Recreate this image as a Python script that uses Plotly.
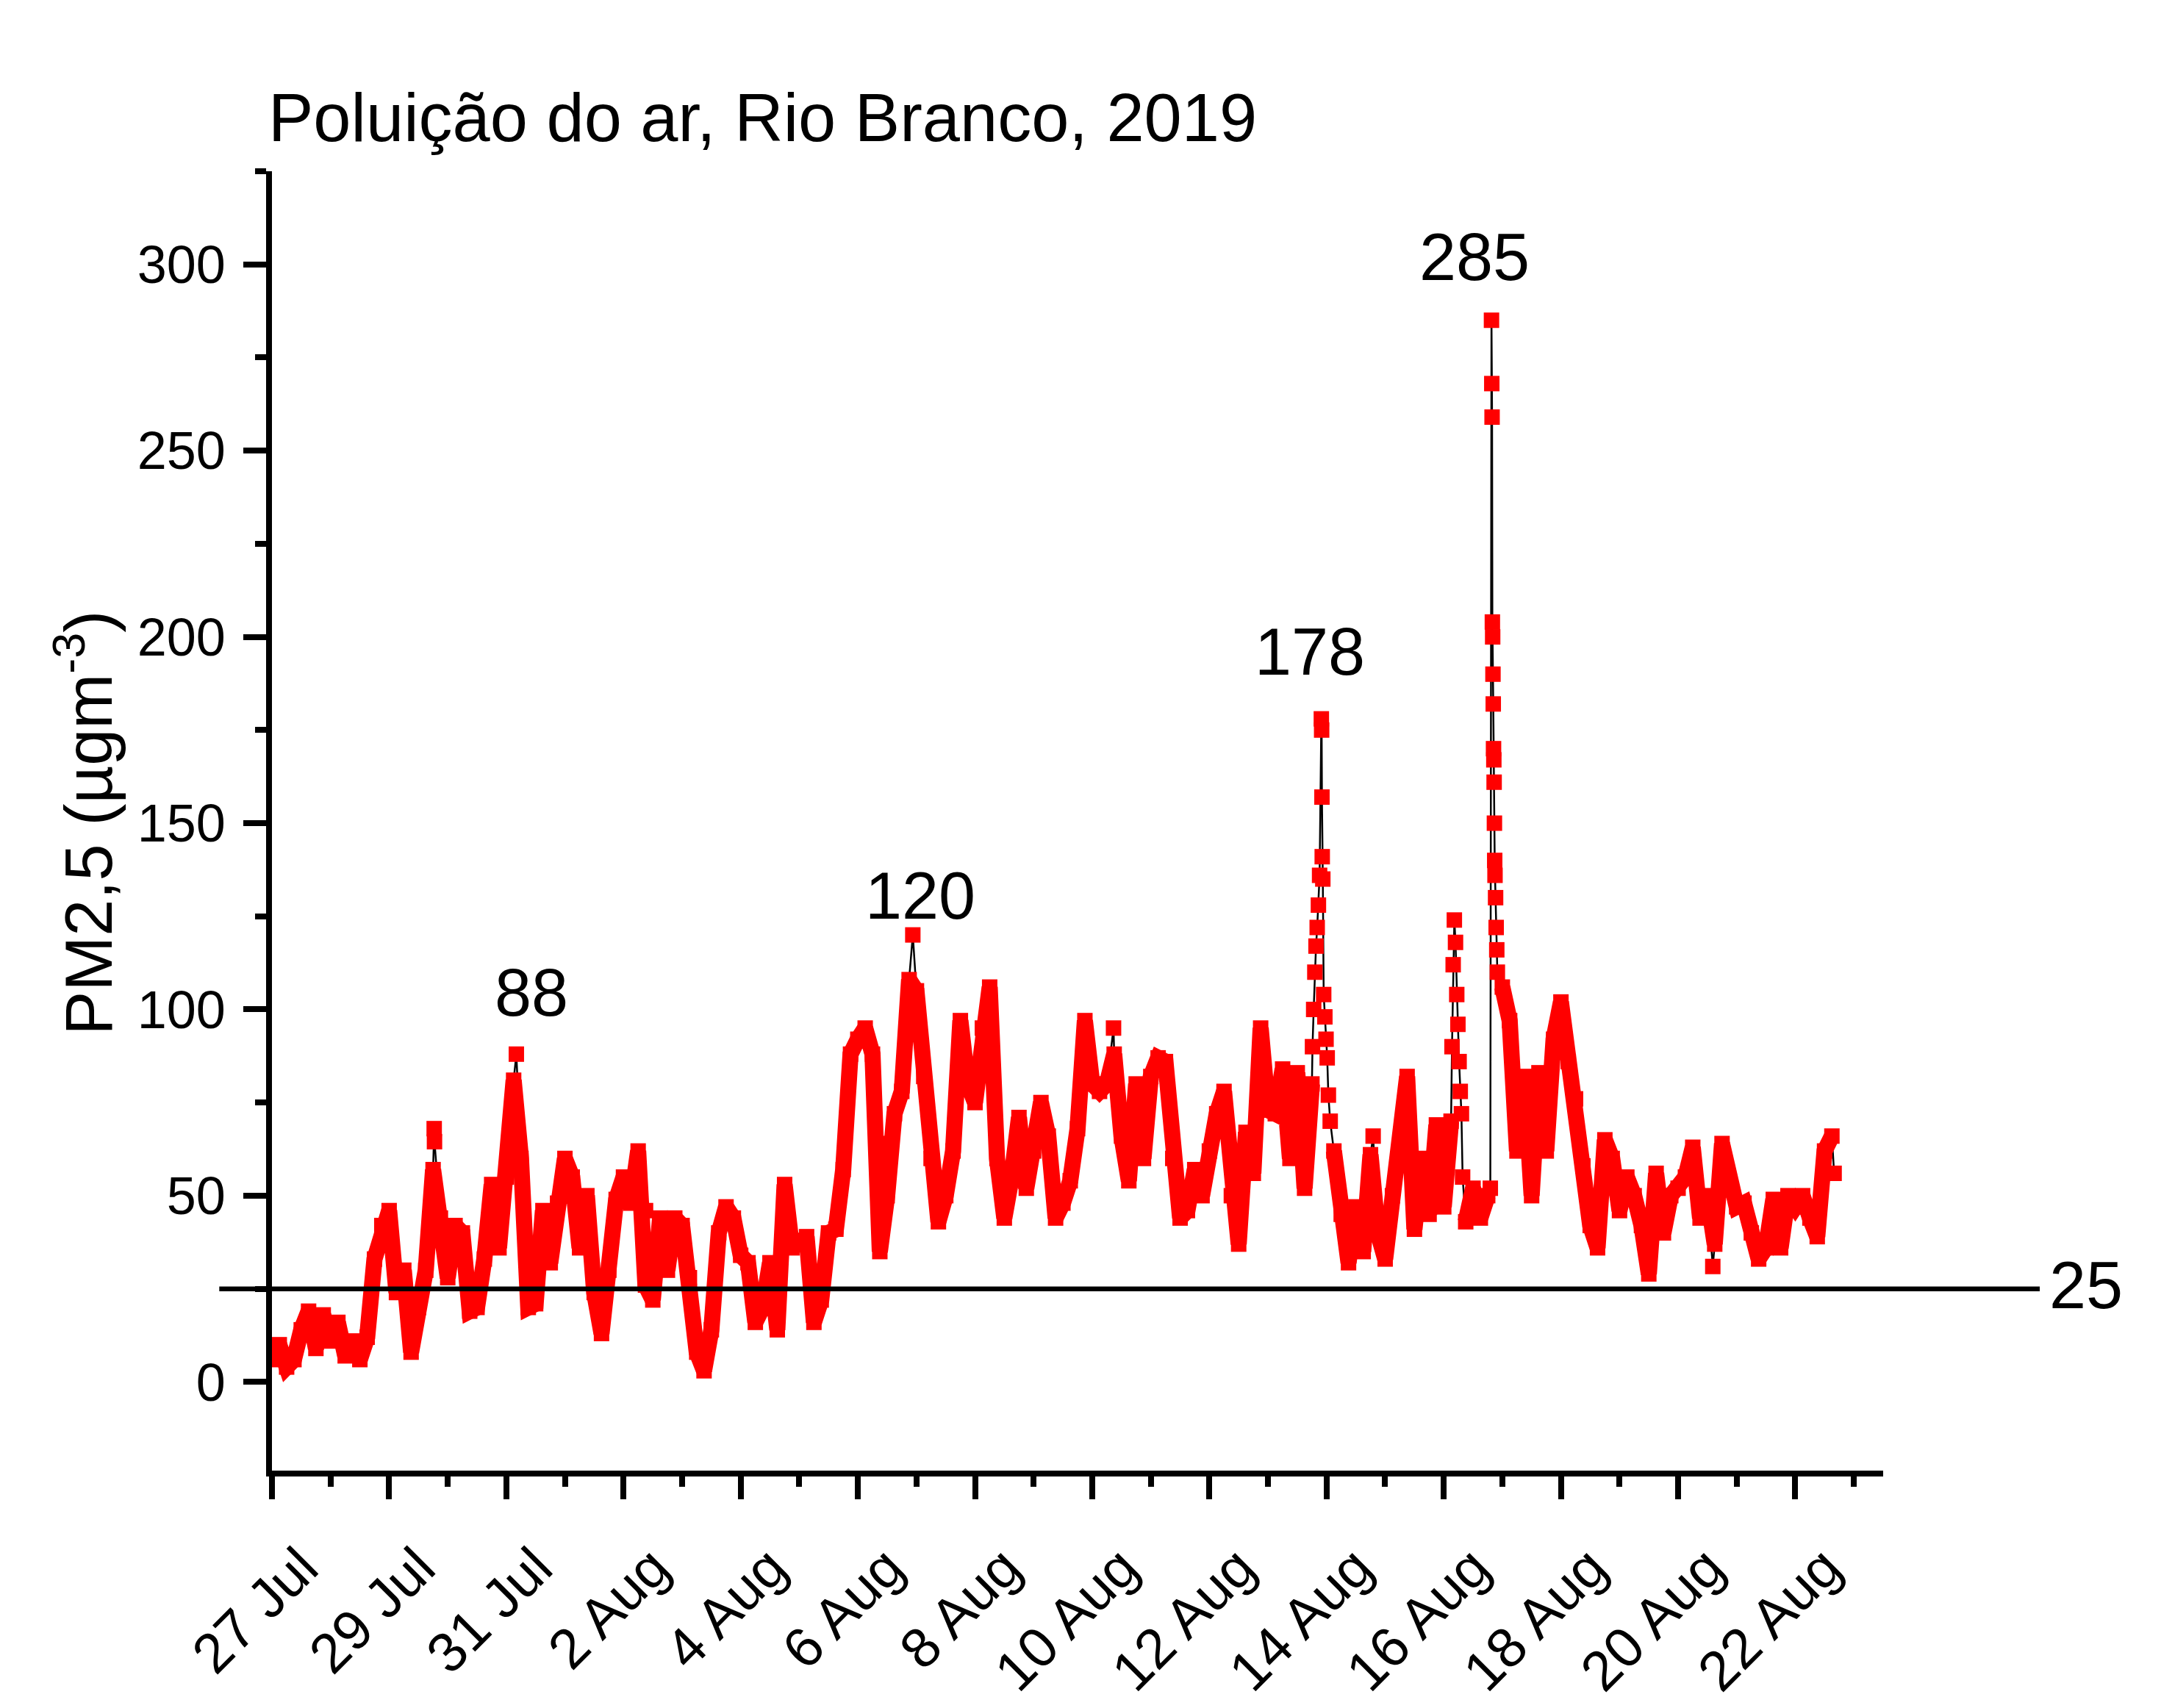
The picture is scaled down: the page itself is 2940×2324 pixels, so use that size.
import plotly.graph_objects as go
from datetime import datetime, timedelta

START = datetime(2019, 7, 27)

# PM2.5 values every 3 hours from 27 Jul 2019 00:00 (None = spike burst, listed separately)
pm25_3h = [
    6, 10, 4, 6, 14, 19, 9, 18,          # 27 Jul
    11, 16, 7, 11, 6, 12, 33, 42,        # 28 Jul
    46, 24, 30, 8, 20, 30, 57, 44,       # 29 Jul
    28, 42, 40, 19, 20, 33, 53, 36,      # 30 Jul
    55, 81, 60, 20, 21, 46, 32, 48,      # 31 Jul
    60, 55, 36, 50, 24, 13, 30, 49,      # 1 Aug
    55, 48, 62, 26, 22, 44, 30, 44,      # 2 Aug
    42, 28, 8, 3, 14, 40, 47, 44,        # 3 Aug
    34, 32, 16, 20, 32, 14, 53, 36,      # 4 Aug
    37, 39, 16, 22, 40, 41, 57, 88,      # 5 Aug
    92, 95, 88, 35, 50, 72, 78, 108,     # 6 Aug
    105, 82, 60, 43, 50, 62, 97, 80,     # 7 Aug
    75, 95, 106, 60, 44, 55, 71, 52,     # 8 Aug
    62, 75, 66, 44, 48, 54, 68, 97,      # 9 Aug
    80, 78, 80, 88, 66, 54, 80, 60,      # 10 Aug
    82, 87, 86, 60, 44, 46, 57, 50,      # 11 Aug
    62, 72, 78, 50, 37, 67, 56, 95,      # 12 Aug
    73, 72, 84, 60, 83, 52, 80, None,    # 13 Aug
    None, 62, 45, 32, 47, 35, 61, 40,    # 14 Aug
    33, 50, 60, 82, 41, 60, 45, 69,      # 15 Aug
    47, 70, None, 43, 52, 44, 50, None,  # 16 Aug
    106, 97, 62, 82, 50, 83, 62, 92,     # 17 Aug
    102, 86, 76, 58, 42, 36, 65, 60,     # 18 Aug
    46, 55, 50, 42, 29, 56, 40, 50,      # 19 Aug
    52, 55, 63, 44, 50, 37, 64, 53,      # 20 Aug
    47, 48, 40, 33, 36, 49, 36, 50,      # 21 Aug
    47, 50, 44, 39, 62, 66,              # 22 Aug
]

# isolated readings and spike bursts (days after 27 Jul 00:00, value)
burst_days = [
    2.769, 2.774, 4.171, 6.376, 10.365, 10.385, 10.938, 14.364,
    17.760, 17.780, 17.800, 17.820, 17.840, 17.861, 17.881, 17.911, 17.916, 17.921,
    17.926, 17.936, 17.951, 17.971, 17.991, 18.011, 18.031, 18.062,
    18.795,
    20.141, 20.161, 20.181, 20.201, 20.222, 20.242, 20.262, 20.282, 20.302, 20.322,
    20.795, 20.815, 20.820, 20.825, 20.830, 20.835, 20.840, 20.845, 20.850, 20.855,
    20.860, 20.865, 20.870, 20.875, 20.885, 20.895, 20.905, 20.915,
    24.592, 26.663,
]
burst_vals = [
    68, 64.5, 88, 46, 64, 55, 120, 95,
    90, 100, 110, 117, 122, 128, 136, 178, 175, 157,
    141, 135, 104, 98, 92, 87, 77, 70,
    66,
    90, 112, 124, 118, 104, 96, 86, 78, 72, 55,
    52, 285, 268, 259, 204, 200, 190, 182, 170, 167,
    161, 150, 140, 136, 130, 122, 116, 110,
    31, 56,
]

tick_dates = ["2019-07-27", "2019-07-29", "2019-07-31", "2019-08-02", "2019-08-04",
              "2019-08-06", "2019-08-08", "2019-08-10", "2019-08-12", "2019-08-14",
              "2019-08-16", "2019-08-18", "2019-08-20", "2019-08-22"]
tick_labels = ["27 Jul", "29 Jul", "31 Jul", "2 Aug", "4 Aug", "6 Aug", "8 Aug",
               "10 Aug", "12 Aug", "14 Aug", "16 Aug", "18 Aug", "20 Aug", "22 Aug"]
y_ticks = [0, 50, 100, 150, 200, 250, 300]

peak_labels = ["88", "120", "178", "285"]
peak_label_days = [4.425, 11.07, 17.71, 20.53]
peak_label_vals = [104.5, 130.4, 196.0, 302.0]

limit_value = 25

FONT = "Liberation Sans, Arial, sans-serif"

grid_t = [START + timedelta(hours=3 * i) for i in range(len(pm25_3h))]
burst_t = [START + timedelta(days=d) for d in burst_days]
merged = sorted([(t, v) for t, v in zip(grid_t, pm25_3h) if v is not None]
                + list(zip(burst_t, burst_vals)))
all_t = [m[0] for m in merged]
all_v = [m[1] for m in merged]

fig = go.Figure()
# thin black connecting line
fig.add_trace(go.Scatter(x=all_t, y=all_v, mode="lines",
                         line=dict(color="black", width=2.5),
                         hoverinfo="skip", showlegend=False))
# dense red body of the series
fig.add_trace(go.Scatter(x=grid_t, y=pm25_3h, mode="lines", connectgaps=False,
                         line=dict(color="#FF0000", width=22),
                         hoverinfo="skip", showlegend=False))
# square markers
fig.add_trace(go.Scatter(x=all_t, y=all_v, mode="markers",
                         marker=dict(symbol="square", size=21, color="#FF0000",
                                     line=dict(width=0)),
                         showlegend=False))

fig.add_shape(type="line", xref="paper", yref="y", x0=-0.0327, x1=1.0972,
              y0=limit_value, y1=limit_value, line=dict(color="black", width=6.5),
              layer="above")

annotations = []
for txt, d, v in zip(peak_labels, peak_label_days, peak_label_vals):
    annotations.append(dict(x=START + timedelta(days=d), y=v, xref="x", yref="y",
                            text=txt, showarrow=False, xanchor="center", yanchor="middle",
                            font=dict(family=FONT, size=90, color="black")))
annotations.append(dict(x=1.1260, y=26.0, xref="paper", yref="y", text=str(limit_value),
                        showarrow=False, xanchor="center", yanchor="middle",
                        font=dict(family=FONT, size=90, color="black")))
annotations.append(dict(x=-0.003, y=1.0414, xref="paper", yref="paper",
                        text="Poluição do ar, Rio Branco, 2019", showarrow=False,
                        xanchor="left", yanchor="middle",
                        font=dict(family=FONT, size=92, color="black")))
annotations.append(dict(x=-0.1165, y=150, xref="paper", yref="y",
                        text="PM2,5 (µgm<sup>-3</sup>)", showarrow=False, textangle=-90,
                        xanchor="center", yanchor="middle",
                        font=dict(family=FONT, size=90, color="black")))

axis_common = dict(showline=True, linecolor="black", linewidth=7.5, ticks="outside",
                   ticklen=31, tickwidth=7.5, tickcolor="black", showgrid=False,
                   zeroline=False)

fig.update_layout(
    width=2940, height=2324,
    margin=dict(l=361.7, r=386, t=225, b=330.5, autoexpand=False),
    paper_bgcolor="white", plot_bgcolor="white",
    showlegend=False,
    annotations=annotations,
    xaxis=dict(type="date", range=[START, START + timedelta(days=27.5)],
               tickmode="array", tickvals=tick_dates, ticktext=tick_labels,
               tickangle=-45, ticklabelstandoff=18, ticklabelshift=40,
               tickfont=dict(family=FONT, size=76, color="black"),
               minor=dict(tickmode="linear", tick0="2019-07-27", dtick=86400000,
                          ticks="outside", ticklen=14, tickwidth=7.5, tickcolor="black",
                          showgrid=False),
               **axis_common),
    yaxis=dict(range=[-23.8, 325], tickmode="array", tickvals=y_ticks,
               ticktext=[str(v) for v in y_ticks], ticklabelstandoff=10,
               tickfont=dict(family=FONT, size=72, color="black"),
               minor=dict(tickmode="linear", tick0=0, dtick=25, ticks="outside",
                          ticklen=15, tickwidth=7.5, tickcolor="black", showgrid=False),
               **axis_common),
)

fig.write_html("out.html")
